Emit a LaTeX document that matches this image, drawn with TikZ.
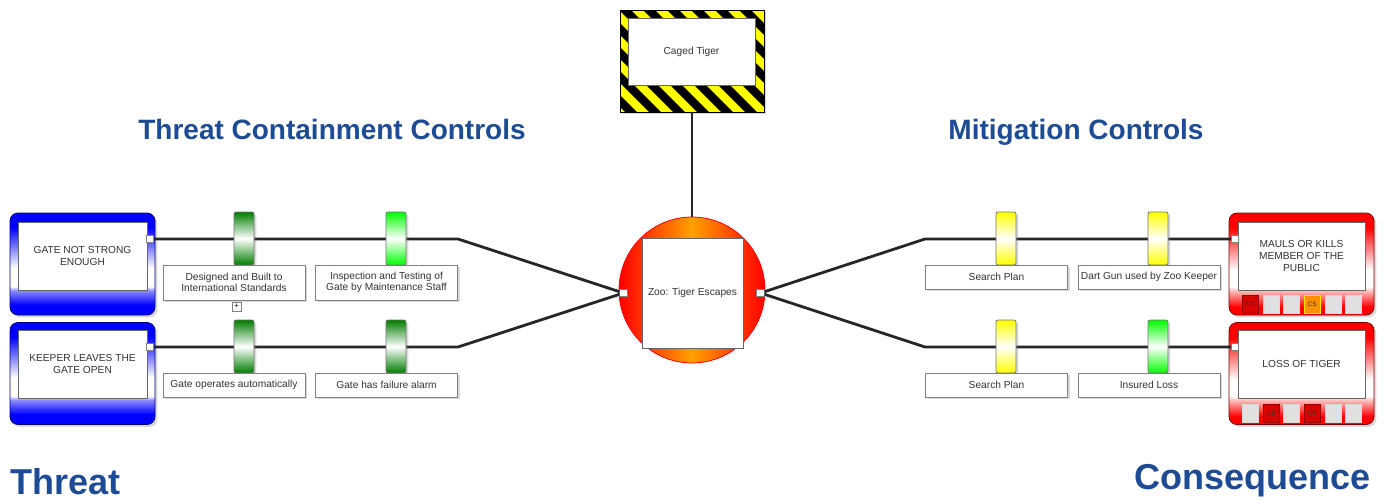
\documentclass[tikz,border=0pt]{standalone}
\usepackage{fontspec}
\setmainfont{Liberation Sans}
\usetikzlibrary{shadows}

\definecolor{headblue}{RGB}{30,75,150}
\definecolor{tblue}{RGB}{0,0,255}
\definecolor{cred}{RGB}{255,0,0}
\definecolor{dgreen}{RGB}{0,125,0}
\definecolor{lgreen}{RGB}{0,255,0}
\definecolor{byellow}{RGB}{255,255,0}
\definecolor{torange}{RGB}{255,160,0}

\pgfdeclareverticalshading{threatshade}{100bp}{color(0bp)=(tblue); color(30bp)=(tblue); color(37bp)=(tblue!45); color(39bp)=(white); color(48bp)=(white); color(68bp)=(tblue); color(100bp)=(tblue)}
\pgfdeclareverticalshading{consshade}{100bp}{color(0bp)=(cred); color(29bp)=(cred); color(37bp)=(cred!25); color(39bp)=(white); color(47bp)=(white); color(68bp)=(cred); color(100bp)=(cred)}

\tikzset{
  bowtxt/.style={font=\fontsize{5.1}{5.8}\selectfont, text=black!80, align=center},
  softshadow/.style={drop shadow={opacity=.3, shadow xshift=1.2pt, shadow yshift=-1.2pt}},
  boxframe/.style={rounded corners=4pt, minimum width=72.5pt, minimum height=51pt, softshadow},
  threat/.style={boxframe, draw=tblue!50!black, shade, shading=threatshade},
  conseq/.style={boxframe, draw=cred!50!black, shade, shading=consshade},
  innerbox/.style={bowtxt, draw=black!60, fill=white, minimum width=64.5pt, minimum height=34pt, inner sep=1pt},
  port/.style={draw=black!50, fill=white, minimum size=3.8pt, inner sep=0pt},
  barrier/.style={draw=black!55, rounded corners=1pt, minimum width=10pt, minimum height=26.5pt, inner sep=0pt, top color=#1, bottom color=#1, middle color=white, softshadow},
  ctrl/.style={bowtxt, draw=black!50, fill=white, minimum width=71pt, minimum height=12pt, inner sep=1pt, softshadow},
  csbox/.style={minimum width=8pt, minimum height=9pt, inner sep=0pt, font=\fontsize{3.2}{3.2}\selectfont, text=black!80},
  csred/.style={csbox, draw=cred!60!black, fill=cred!85!black},
  csorange/.style={csbox, draw=byellow!80!orange, fill=torange!90!red},
  csgrey/.style={csbox, draw=black!15, fill=black!12},
  heading/.style={font=\bfseries\fontsize{14}{16}\selectfont, text=headblue, anchor=base},
  bigheading/.style={font=\bfseries\fontsize{18}{20}\selectfont, text=headblue},
  wire/.style={line width=1.4pt, black!85}
}

\begin{document}
\begin{tikzpicture}[x=0.5pt,y=-0.5pt]
\useasboundingbox (0,0) rectangle (1389,499);

% headings
\node[heading] (hthc) at (332,139) {Threat Containment Controls};
\node[heading] (hmit) at (1076,139) {Mitigation Controls};
\node[bigheading, anchor=base west] (hthr) at (3,494) {Threat};
\node[bigheading, anchor=base east] (hcon) at (1378,489) {Consequence};

% hazard
\node[draw=black, fill=byellow, minimum width=72pt, minimum height=51pt, softshadow,
      path picture={
        \foreach \s in {-220,-196,...,120}
          \draw[line width=4.2pt] (\s,-60) -- (\s+120,60);
      }] (hz) at (692,61) {};
\node[innerbox, minimum width=63.5pt, minimum height=33.5pt] (haz) at (691.5,51.5) {Caged Tiger};

% top event
\node[circle, draw=cred, left color=cred, right color=cred, middle color=torange, minimum size=73pt] (topev) at (692,290) {};
\node[innerbox, minimum width=50.5pt, minimum height=55pt] (top) at (692.5,293) {Zoo: Tiger Escapes};
\node[port] (tpl) at (623.5,293) {};
\node[port] (tpr) at (760.5,293) {};

% threats
\node[threat] (t1frame) at (82.5,264) {};
\node[innerbox] (t1) at (82.5,256) {GATE NOT STRONG\\ENOUGH};
\node[port] (t1port) at (150,239) {};
\node[threat] (t2frame) at (82.5,373.5) {};
\node[innerbox] (t2) at (82.5,364) {KEEPER LEAVES THE\\GATE OPEN};
\node[port] (t2port) at (150,347) {};

% consequences
\node[conseq] (c1frame) at (1301.5,264) {};
\node[innerbox, minimum width=63.5pt] (c1) at (1301.5,256) {MAULS OR KILLS\\MEMBER OF THE\\PUBLIC};
\node[port] (c1port) at (1235,239) {};
\node[conseq] (c2frame) at (1301.5,373.5) {};
\node[innerbox, minimum width=63.5pt] (c2) at (1301.5,364) {LOSS OF TIGER};
\node[port] (c2port) at (1235,347) {};

\foreach \st/\tx [count=\k from 0] in {csred/CS,csgrey/{},csgrey/{},csorange/CS,csgrey/{},csgrey/{}}
  \node[\st] (cs1-\k) at (1250.5+20.6*\k,304) {\tx};
\foreach \st/\tx [count=\k from 0] in {csgrey/{},csred/CS,csgrey/{},csred/CS,csgrey/{},csgrey/{}}
  \node[\st] (cs2-\k) at (1250.5+20.6*\k,413) {\tx};

% connectors
\coordinate (l1) at (458,239);
\coordinate (l2) at (458,347);
\coordinate (r1) at (925,239);
\coordinate (r2) at (925,347);
\draw[wire] (t1port) -- (l1) -- (tpl);
\draw[wire] (t2port) -- (l2) -- (tpl);
\draw[wire] (tpr) -- (r1) -- (c1port);
\draw[wire] (tpr) -- (r2) -- (c2port);
\draw[wire] (hz) -- (topev);

% threat containment controls
\node[barrier=dgreen] (b11) at (244,238.5) {};
\node[barrier=lgreen] (b12) at (396,238.5) {};
\node[barrier=dgreen] (b21) at (244,346.5) {};
\node[barrier=dgreen] (b22) at (396,346.5) {};
\node[ctrl, minimum height=17.5pt] (lab11) at (234,282.5) {Designed and Built to\\International Standards};
\node[ctrl, minimum height=17.5pt] (lab12) at (386.5,282.5) {Inspection and Testing of\\Gate by Maintenance Staff};
\node[ctrl] (lab21) at (234,385) {Gate operates automatically};
\node[ctrl] (lab22) at (386.5,385) {Gate has failure alarm};
\node[port, minimum size=4.5pt, font=\fontsize{4}{4}\selectfont] (more) at (236.5,306.5) {+};

% mitigation controls
\node[barrier=byellow] (m11) at (1006,238.5) {};
\node[barrier=byellow] (m12) at (1158,238.5) {};
\node[barrier=byellow] (m21) at (1006,346.5) {};
\node[barrier=lgreen] (m22) at (1158,346.5) {};
\node[ctrl] (mlab11) at (996.5,277) {Search Plan};
\node[ctrl] (mlab12) at (1149,277) {Dart Gun used by Zoo Keeper};
\node[ctrl] (mlab21) at (996.5,385) {Search Plan};
\node[ctrl] (mlab22) at (1149,385) {Insured Loss};

\end{tikzpicture}
\end{document}
